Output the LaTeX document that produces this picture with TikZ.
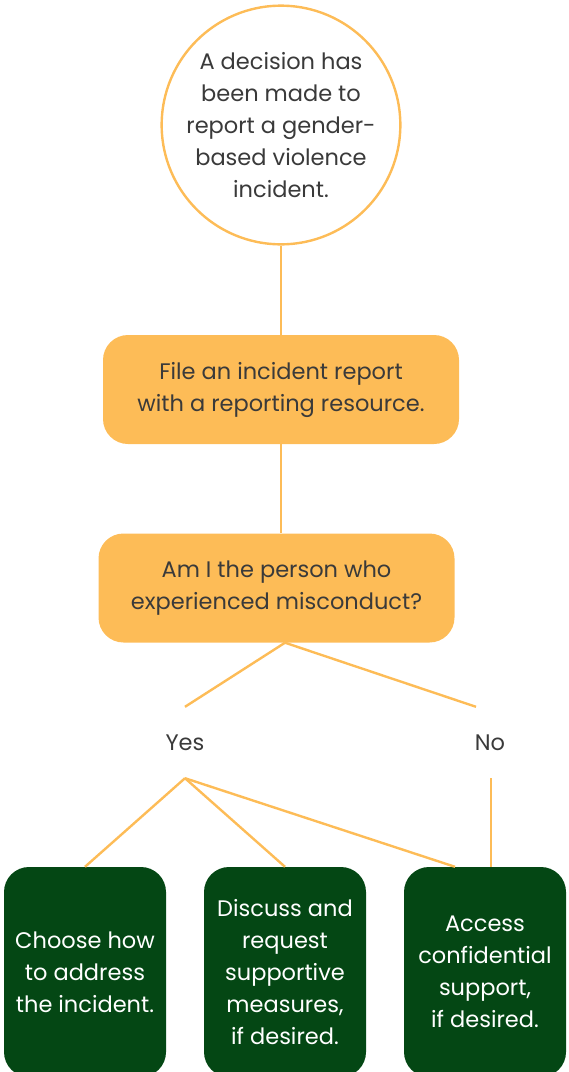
\documentclass[tikz,border=0pt]{standalone}
\usepackage{fontspec}
\setmainfont{Poppins}
\usetikzlibrary{calc}
\definecolor{gold}{HTML}{FDBC57}
\definecolor{forest}{HTML}{044714}
\definecolor{ink}{HTML}{3A3A3A}
\tikzset{
  x=1pt,y=1pt,
  conn/.style={draw=gold,line width=2.4pt},
  txt/.style={font=\fontsize{22.5}{32}\selectfont,align=center,inner sep=0pt},
  startcirc/.style={circle,draw=gold,line width=2.4pt,fill=white,minimum size=236pt,txt,text=ink},
  goldbox/.style={rectangle,rounded corners=25pt,fill=gold,minimum width=356pt,minimum height=109pt,txt,text=ink},
  greenbox/.style={rectangle,rounded corners=25pt,fill=forest,minimum width=162pt,minimum height=210pt,txt,text=white},
  answer/.style={txt,text=ink,minimum height=71pt,minimum width=40pt}
}
\begin{document}
\begin{tikzpicture}
\useasboundingbox (0,0) rectangle (569,-1072);
\node[startcirc] (start) at (281,-125) {A decision has\\been made to\\report a gender-\\based violence\\incident.};
\node[goldbox] (file) at (281,-389.5) {File an incident report\\with a reporting resource.};
\node[goldbox] (ask) at (276.5,-588) {Am I the person who\\experienced misconduct?};
\node[answer] (yes) at (185,-742.5) {Yes};
\node[answer] (no) at (490,-742.5) {No};
\begin{scope}
\clip (0,0) rectangle (569,-1072);
\node[greenbox] (choose) at (85,-972) {Choose how\\to address\\the incident.};
\node[greenbox] (discuss) at (285,-972) {Discuss and\\request\\supportive\\measures,\\if desired.};
\node[greenbox] (access) at (485,-972) {Access\\confidential\\support,\\if desired.};
\end{scope}
\coordinate (askb) at ($(ask.south)+(8.5,0)$);
\coordinate (notop) at ($(no.north)+(-14,0)$);
\coordinate (nobot) at ($(no.south)+(1,0)$);
\draw[conn] (start.south) -- (file.north);
\draw[conn] (file.south) -- (file.south|-ask.north);
\draw[conn] (askb) -- (yes.north);
\draw[conn] (askb) -- (notop);
\draw[conn] (yes.south) -- (choose.north);
\draw[conn] (yes.south) -- (discuss.north);
\draw[conn] (yes.south) -- ($(access.north)+(-30,0)$);
\draw[conn] (nobot) -- (nobot|-access.north);
\end{tikzpicture}
\end{document}
